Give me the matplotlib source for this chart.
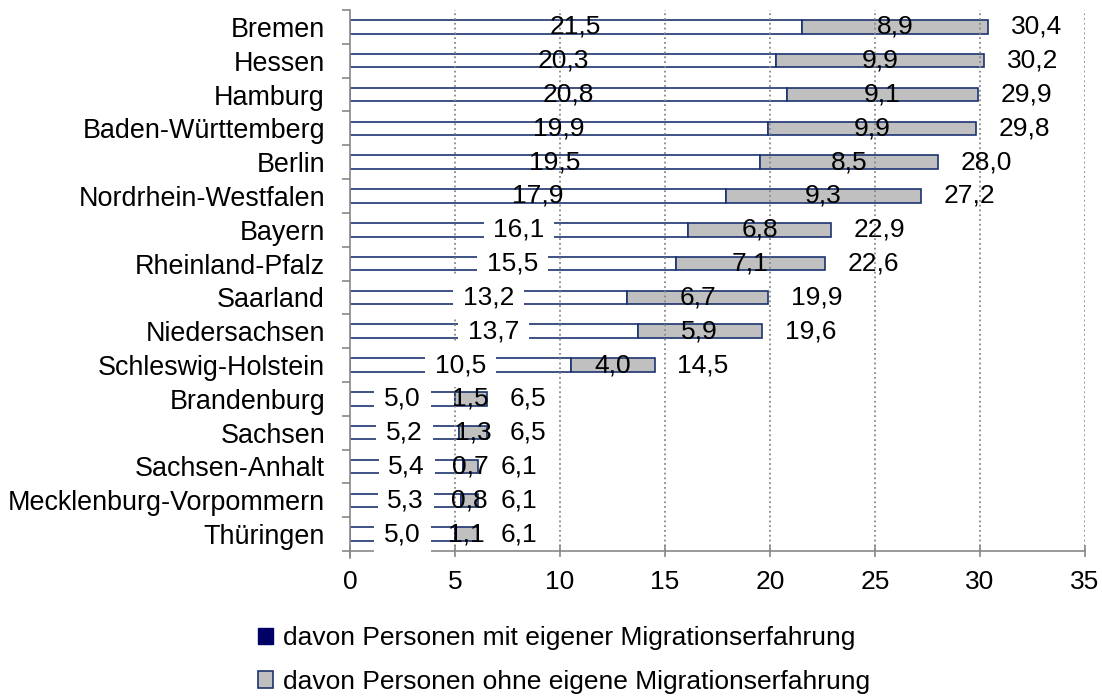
import numpy as np
import matplotlib as mpl
mpl.rcParams.update({'font.family': 'Liberation Sans', 'font.size': 19})
from matplotlib import pyplot as plt
from matplotlib.patches import Patch

states = ['Bremen', 'Hessen', 'Hamburg', 'Baden-Württemberg', 'Berlin',
          'Nordrhein-Westfalen', 'Bayern', 'Rheinland-Pfalz', 'Saarland',
          'Niedersachsen', 'Schleswig-Holstein', 'Brandenburg', 'Sachsen',
          'Sachsen-Anhalt', 'Mecklenburg-Vorpommern', 'Thüringen']
mit_erfahrung = [21.5, 20.3, 20.8, 19.9, 19.5, 17.9, 16.1, 15.5, 13.2, 13.7,
                 10.5, 5.0, 5.2, 5.4, 5.3, 5.0]
ohne_erfahrung = [8.9, 9.9, 9.1, 9.9, 8.5, 9.3, 6.8, 7.1, 6.7, 5.9,
                  4.0, 1.5, 1.3, 0.7, 0.8, 1.1]
totals = [30.4, 30.2, 29.9, 29.8, 28.0, 27.2, 22.9, 22.6, 19.9, 19.6,
          14.5, 6.5, 6.5, 6.1, 6.1, 6.1]
legend_labels = ['davon Personen mit eigener Migrationserfahrung',
                 'davon Personen ohne eigene Migrationserfahrung']

navy = '#1c3370'
fig = plt.figure(figsize=(11.02, 6.97), dpi=100)
ax = fig.add_axes([350/1102, 1 - 551/697, 735/1102, 541/697])

a = np.array(mit_erfahrung)
b = np.array(ohne_erfahrung)
y = np.arange(len(states))
h = 0.4
ax.barh(y, a, height=h, color='white', edgecolor=navy, linewidth=1.2, zorder=1)
ax.barh(y, b, left=a, height=h, color='#c0c0c0', edgecolor=navy, linewidth=1.2, zorder=1)

def fmt(v):
    return f'{v:.1f}'.replace('.', ',')

for i in range(len(states)):
    box = None
    if a[i] < 17:
        # the lower labels sit on a white box that breaks the bar outline
        box = dict(facecolor='white', edgecolor='none', pad=7)
    ax.text(a[i] / 2, y[i], fmt(a[i]), ha='center', va='center', zorder=4, bbox=box)
    ax.text(a[i] + b[i] / 2, y[i], fmt(b[i]), ha='center', va='center', zorder=4)
    ax.annotate(fmt(totals[i]), (totals[i], y[i]), xytext=(16.5, 0),
                textcoords='offset points', ha='left', va='center', zorder=4)

ax.set_xlim(0, 35)
ax.set_ylim(len(states) - 0.5, -0.5)
ax.set_xticks(np.arange(0, 36, 5))
ax.set_yticks(y)
ax.set_yticklabels(states, fontsize=19.4)
ax.tick_params(axis='y', which='major', length=0, pad=18)
ax.set_yticks(np.arange(-0.5, len(states), 1), minor=True)
ax.tick_params(axis='y', which='minor', length=5.5, color='#888888', width=1.2)
ax.tick_params(axis='x', direction='inout', length=8, color='#888888', width=1.2, pad=10)

for x in np.arange(5, 36, 5):
    ax.axvline(x, color='#888888', linestyle=':', linewidth=1.3, zorder=2)

for s in ['top', 'right']:
    ax.spines[s].set_visible(False)
for s in ['left', 'bottom']:
    ax.spines[s].set_color('#888888')
    ax.spines[s].set_linewidth(1.2)
    ax.spines[s].set_zorder(3)
ax.spines['left'].set_bounds(len(states) - 0.5 + 0.2, -0.5)

handles = [Patch(facecolor='#000066', edgecolor='#000066'),
           Patch(facecolor='#c0c0c0', edgecolor=navy, linewidth=1.2)]
fig.legend(handles, legend_labels, loc='center left',
           bbox_to_anchor=(258/1102, 1 - 660/697), frameon=False,
           handlelength=0.58, handleheight=0.58, handletextpad=0.35,
           labelspacing=0.75, borderpad=0, borderaxespad=0)

fig.savefig('out.png', dpi=100)
